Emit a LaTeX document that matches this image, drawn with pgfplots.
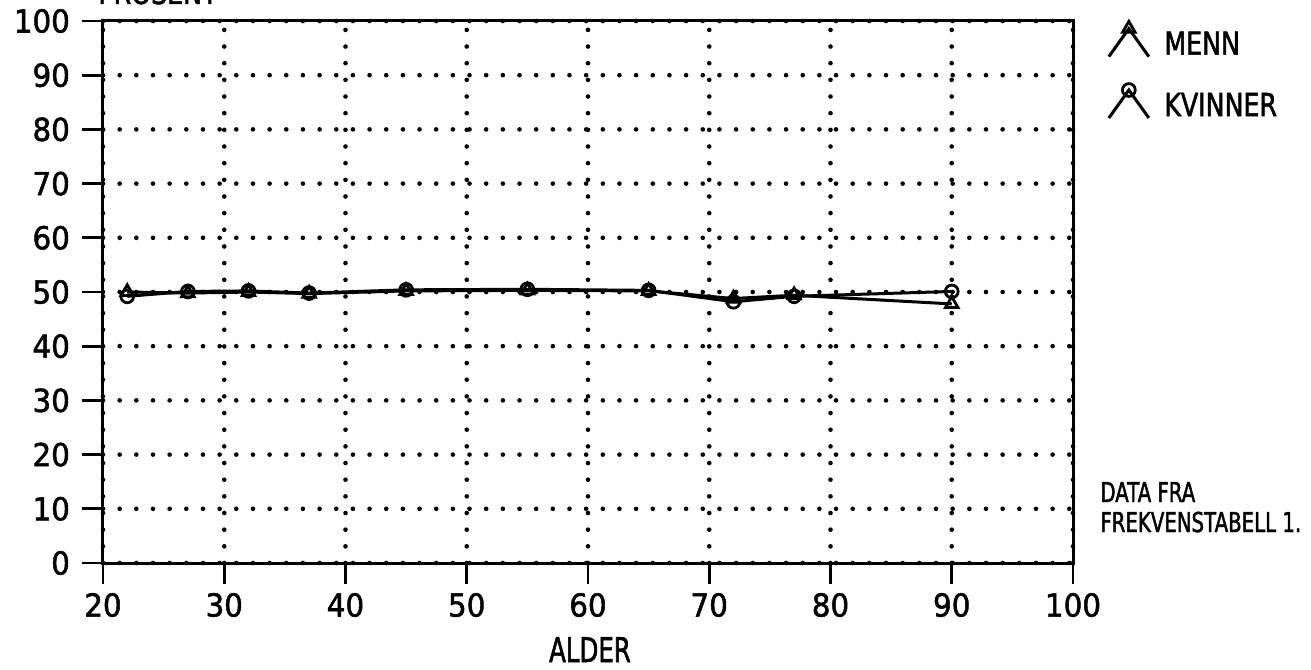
\documentclass[border=0pt]{standalone}
\usepackage{fontspec}
\setmainfont{DejaVu Sans}[FakeStretch=0.8, FakeBold=1.6]
\newfontfamily\tickfont{DejaVu Sans}[FakeStretch=0.93, FakeBold=1.6]
\newfontfamily\narrowfont{DejaVu Sans}[FakeStretch=0.72, FakeBold=1.6]
\usepackage{pgfplots}
\pgfplotsset{compat=1.18}
\newcommand\plotfont{\fontsize{15.8}{17}\selectfont}
\newcommand\tickfontsize{\tickfont\fontsize{15.8}{17}\selectfont}

\begin{document}
\begin{tikzpicture}
\begin{axis}[
  at={(0pt,0pt)}, anchor=south west,
  scale only axis, width=485pt, height=271pt,
  xmin=20, xmax=100, ymin=0, ymax=100,
  xtick={20,30,...,100}, ytick={0,10,...,100},
  tick pos=left, tick align=outside,
  major tick length=10.5pt,
  major tick style={black, line width=1.4pt},
  axis line style={line width=1.5pt},
  grid=major,
  major grid style={black, line width=2.3pt, line cap=round, dash pattern=on 0pt off 8.33pt},
  ticklabel style={font=\tickfontsize},
  yticklabel style={xshift=-2.5pt},
  xticklabel style={yshift=-1pt},
  /pgf/number format/assume math mode=true,
  legend style={at={(1.035,1.0)}, anchor=north west, draw=none, fill=none,
    font=\plotfont, row sep=11pt, inner sep=0pt,
    /tikz/every odd column/.append style={column sep=5pt}},
  legend cell align=left,
  legend image code/.code={\draw[mark repeat=2,mark phase=2,#1]
    plot coordinates {(0pt,-6pt)(10pt,8pt)(20pt,-6pt)};},
]
\addplot[black, line width=1.5pt, mark=triangle, mark size=3.6pt,
  mark options={solid, fill=white, line width=1.4pt}]
  coordinates {
  (22,50.0)(27,49.8)(32,50.0)(37,49.7)(45,50.2)(55,50.3)
  (65,50.2)(72,48.8)(77,49.4)(90,47.8)
  };
\addplot[black, line width=1.5pt, mark=o, mark size=3.2pt,
  mark options={solid, fill=white, line width=1.4pt}]
  coordinates {
  (22,49.2)(27,50.1)(32,50.2)(37,49.8)(45,50.4)(55,50.5)
  (65,50.3)(72,48.2)(77,49.2)(90,50.1)
  };
\legend{MENN,KVINNER}
\end{axis}
\node[anchor=base, font=\plotfont] at (27.5pt,279.5pt) {PROSENT};
\node[anchor=base, font={\narrowfont\fontsize{17}{18}\selectfont}] at (243.5pt,-49.5pt) {ALDER};
\node[anchor=base west, inner sep=0pt, font={\narrowfont\fontsize{13.7}{15}\selectfont}]
  at (498.5pt,30.5pt) {DATA FRA};
\node[anchor=base west, inner sep=0pt, font={\narrowfont\fontsize{13.7}{15}\selectfont}]
  at (498.5pt,15.5pt) {FREKVENSTABELL 1.};
\pgfresetboundingbox
\useasboundingbox (-51.5pt,-53pt) rectangle (604pt,281.5pt);
\end{tikzpicture}
\end{document}
